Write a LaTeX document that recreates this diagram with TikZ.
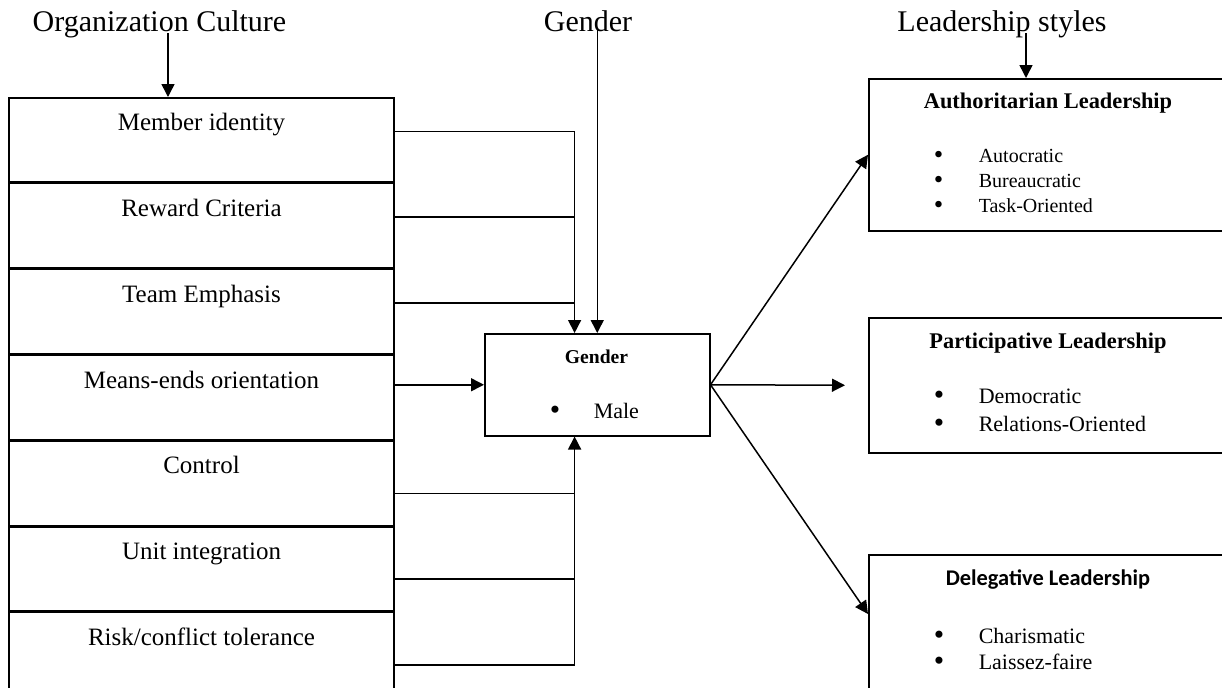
\documentclass[tikz,border=0pt]{standalone}
\usepackage{fontspec}
\setmainfont{Liberation Serif}
\newfontfamily\calibri{Carlito}
\usetikzlibrary{
    arrows.meta,
    calc,
    positioning
}
\newcommand{\bulletmark}[1]{\makebox[#1][l]{\raisebox{-0.5pt}{\scalebox{1.35}{\textbullet}}}}

\begin{document}
\begin{tikzpicture}[
        x=0.5pt, y=-0.5pt,
        line width=0.75pt,
        arr/.style={-{Triangle[length=6.5pt,width=6.5pt]}},
        heading/.style={font=\fontsize{15}{18}\selectfont, inner sep=0, anchor=base},
        culture/.style={draw, inner sep=0, minimum width=192.5pt, text height=16.5pt, text depth=25.65pt, font=\fontsize{12.5}{15}\selectfont},
        stylebox/.style={draw, inner sep=0, minimum width=178pt, anchor=north west},
        boxhead/.style={font=\fontsize{11.2}{13}\bfseries\selectfont, inner sep=0, anchor=base},
        item/.style={inner sep=0, anchor=base west, font=\fontsize{11}{13}\selectfont}
    ]
    \useasboundingbox (0, 0) rectangle (1222, 687);

    % headings
    \node[heading] (orgtitle) at (159.5, 31) {Organization Culture};
    \node[heading] (gtitle) at (588, 31) {Gender};
    \node[heading] (ltitle) at (1002, 31) {Leadership styles};

    % organization culture
    \node[culture, anchor=north] (m1) at (201.5, 97) {Member identity};
    \node[culture, below=0pt of m1] (m2) {Reward Criteria};
    \node[culture, below=0pt of m2] (m3) {Team Emphasis};
    \node[culture, below=0pt of m3] (m4) {Means-ends orientation};
    \node[culture, below=0pt of m4] (m5) {Control};
    \node[culture, below=0pt of m5] (m6) {Unit integration};
    \node[culture, below=0pt of m6] (m7) {Risk/conflict tolerance};

    % gender
    \node[draw, inner sep=0, minimum width=112.5pt, minimum height=51pt, anchor=north west] (gender) at (484, 333) {};
    \node[boxhead, font=\fontsize{9.8}{12}\bfseries\selectfont] (genderhead) at (596.5, 363) {Gender};
    \node[item] (male) at (549, 418) {\bulletmark{22pt}Male};

    % leadership styles
    \node[stylebox, minimum height=76pt] (auth) at (868, 78) {};
    \node[boxhead] (authhead) at (1048, 108) {Authoritarian Leadership};
    \node[item, font=\fontsize{10}{12}\selectfont] (autocratic) at (933, 162) {\bulletmark{22.5pt}Autocratic};
    \node[item, font=\fontsize{10}{12}\selectfont] (bureaucratic) at (933, 187) {\bulletmark{22.5pt}Bureaucratic};
    \node[item, font=\fontsize{10}{12}\selectfont] (task) at (933, 212) {\bulletmark{22.5pt}Task-Oriented};

    \node[stylebox, minimum height=67.5pt] (part) at (868, 317) {};
    \node[boxhead] (parthead) at (1048, 348) {Participative Leadership};
    \node[item] (democratic) at (933, 403) {\bulletmark{22.5pt}Democratic};
    \node[item] (relations) at (933, 431) {\bulletmark{22.5pt}Relations-Oriented};

    \node[stylebox, minimum height=70pt] (deleg) at (868, 554) {};
    \node[boxhead, font=\fontsize{11.2}{13}\calibri\bfseries] (deleghead) at (1048, 585) {Delegative Leadership};
    \node[item] (charismatic) at (933, 643) {\bulletmark{22.5pt}Charismatic};
    \node[item] (laissez) at (933, 669) {\bulletmark{22.5pt}Laissez-faire};

    % heading arrows
    \coordinate (orgfoot) at ([xshift=4.25pt, yshift=-1pt]orgtitle.base);
    \coordinate (gbase) at (gtitle.base -| gender.north);
    \coordinate (lfoot) at ([xshift=12pt, yshift=-1pt]ltitle.base);
    \draw[arr] (orgfoot) -- (orgfoot |- m1.north);
    \draw[arr] ([yshift=1.5pt]gbase) -- (gender.north);
    \draw[arr] (lfoot) -- (lfoot |- auth.north);

    % culture into gender
    \coordinate (gin) at ($(gender.north west)!0.4!(gender.north east)$);
    \coordinate (gout) at ($(gender.south west)!0.4!(gender.south east)$);
    \coordinate (c1) at ($(m1.north east)!0.4!(m1.south east)$);
    \coordinate (c2) at ($(m2.north east)!0.4!(m2.south east)$);
    \coordinate (c3) at ($(m3.north east)!0.4!(m3.south east)$);
    \coordinate (c5) at ($(m5.north east)!0.62!(m5.south east)$);
    \coordinate (c6) at ($(m6.north east)!0.62!(m6.south east)$);
    \coordinate (c7) at ($(m7.north east)!0.62!(m7.south east)$);

    \draw[arr] (c1) -| (gin);
    \draw (c2) -- (c2 -| gin);
    \draw (c3) -- (c3 -| gin);
    \draw[arr] (m4.east |- gender.west) -- (gender.west);
    \draw[arr] (c7) -| (gout);
    \draw (c5) -- (c5 -| gout);
    \draw (c6) -- (c6 -| gout);

    % gender to leadership styles
    \draw[arr] (gender.east) -- (auth.west);
    \draw[arr] (gender.east) -- ([xshift=-11.5pt]part.west);
    \draw[arr] (gender.east) -- ([yshift=-30pt]deleg.north west);
\end{tikzpicture}
\end{document}
